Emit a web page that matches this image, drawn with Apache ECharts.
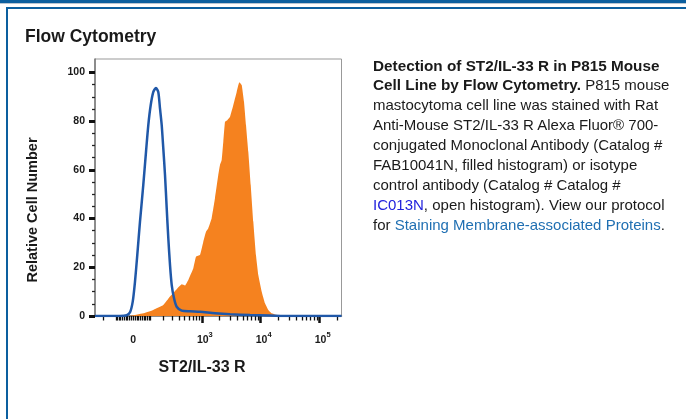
<!DOCTYPE html>
<html lang="en">
<head>
<meta charset="UTF-8">
<title>Flow Cytometry</title>
<script src="https://cdn.jsdelivr.net/npm/echarts@6/dist/echarts.min.js"></script>
<style>
    body { margin: 0; background: #fff; font-family: "Liberation Sans", Arial, sans-serif; color: #1a1a1a; }
    #page { position: relative; width: 686px; height: 419px; overflow: hidden; }
    .bar-top { position: absolute; left: 0; top: 0; width: 686px; height: 3px; background: #0c5f9f; }
    .bar-grey { position: absolute; left: 0; top: 3px; width: 686px; height: 1px; background: #b9c6d3; }
    .bar-thin { position: absolute; left: 6px; top: 7px; width: 680px; height: 2px; background: #0c5f9f; }
    .bar-left { position: absolute; left: 6px; top: 7px; width: 2px; height: 412px; background: #0c5f9f; }
    #main { position: absolute; left: 0; top: 0; width: 686px; height: 419px; }
    .title { position: absolute; left: 25px; top: 26px; font-size: 17.5px; line-height: 20px; font-weight: bold; white-space: nowrap; }
    .desc { position: absolute; left: 373px; top: 55.5px; font-size: 15px; line-height: 19.9px; white-space: nowrap; }
    .desc b { font-weight: bold; font-size: 15.3px; }
    .cat { color: #2222dd; }
    .lnk { color: #1f6fb2; }
</style>
</head>
<body>
<div id="page">
    <div class="bar-top"></div>
    <div class="bar-grey"></div>
    <div class="bar-thin"></div>
    <div class="bar-left"></div>
    <div id="main"></div>
    <div class="title">Flow Cytometry</div>
    <div class="desc">
        <b>Detection of ST2/IL-33 R in P815 Mouse</b><br>
        <b>Cell Line by Flow Cytometry.</b> P815 mouse<br>
        mastocytoma cell line was stained with Rat<br>
        Anti-Mouse ST2/IL-33 R Alexa Fluor® 700-<br>
        conjugated Monoclonal Antibody (Catalog #<br>
        FAB10041N, filled histogram) or isotype<br>
        control antibody (Catalog # Catalog #<br>
        <span class="cat">IC013N</span>, open histogram). View our protocol<br>
        for <span class="lnk">Staining Membrane-associated Proteins</span>.
    </div>
</div>
<script type="text/javascript">
    // x values are display positions on the biexponential axis (1 unit = 1 decade)
    var isotypeX = [1.192, 1.615, 1.729, 1.785, 1.831, 1.869, 1.908, 1.954, 2.010, 2.056, 2.095, 2.136, 2.180, 2.225, 2.264, 2.293, 2.322, 2.349, 2.378, 2.407, 2.434, 2.463, 2.492, 2.531, 2.576, 2.661, 2.802, 2.971, 3.225, 3.480, 3.819, 4.158, 4.497, 5.37];
    var isotypeY = [0, 0, 0.3, 1.5, 5.9, 14, 25, 38.7, 53.8, 67.4, 78.4, 86.6, 92, 93.6, 92, 85.2, 78.4, 68.8, 57.9, 44.2, 31.9, 20.9, 12.7, 7.3, 3.8, 2.2, 1.9, 1.7, 1.1, 0.7, 0.4, 0.2, 0, 0];

    var stainedX = [1.785, 2.010, 2.180, 2.349, 2.463, 2.576, 2.661, 2.717, 2.773, 2.858, 2.903, 2.971, 3.027, 3.073, 3.112, 3.169, 3.225, 3.281, 3.310, 3.339, 3.366, 3.395, 3.434, 3.480, 3.536, 3.593, 3.637, 3.678, 3.717, 3.751, 3.790, 3.831, 3.875, 3.920, 3.959, 4.017, 4.073, 4.129, 4.186, 4.271, 4.327];
    var stainedY = [0, 1.1, 2.5, 4.5, 8.0, 11, 13, 12.5, 14.8, 19.6, 24.3, 25, 30.5, 34.6, 36, 40.1, 48.3, 57.9, 62, 64, 71.5, 79.7, 80.4, 81.8, 86.6, 92, 96, 94.8, 87.9, 78.4, 67.4, 53.8, 38.7, 25, 16.8, 10, 5.2, 2.5, 1.1, 0.4, 0];

    var xLabelValues = [0, 1e3, 1e4, 1e5];
    var xLabelExp = ['', '3', '4', '5'];
    var xMinorValues = [-300, -200, -100, -90, -80, -70, -60, -50, -40, -30, -20, -10, 0, 10, 20, 30, 40, 50, 60, 70, 80, 90, 100,
        200, 300, 400, 500, 600, 700, 800, 900, 2000, 3000, 4000, 5000, 6000, 7000, 8000, 9000,
        20000, 30000, 40000, 50000, 60000, 70000, 80000, 90000, 200000];
    var yMajor = [0, 20, 40, 60, 80, 100];
    var yMinor = [5, 10, 15, 25, 30, 35, 45, 50, 55, 65, 70, 75, 85, 90, 95];

    // biexponential (asinh) transform, ~log10 for large values
    var C = 69;
    function bx(v) {
        return Math.log10(C) + Math.asinh(v / (2 * C)) / Math.LN10;
    }

    function pairs(xs, ys) {
        var out = [];
        for (var i = 0; i < xs.length; i++) out.push([xs[i], ys[i]]);
        return out;
    }

    var xMin = 1.1915, xMax = 5.3695;
    var majorPos = xLabelValues.map(bx);
    var lblFont = {fontFamily: 'Liberation Sans', fontWeight: 'bold', color: '#1a1a1a'};

    var myChart = echarts.init(document.getElementById('main'));
    var option = {
        animation: false,
        grid: {left: 95, top: 59, width: 246.5, height: 257, show: true, borderColor: '#999', borderWidth: 1, backgroundColor: 'transparent'},
        xAxis: [{
            type: 'value', min: xMin, max: xMax, position: 'bottom',
            splitLine: {show: false},
            axisLine: {show: true, onZero: false, lineStyle: {color: '#777', width: 1.5}},
            axisTick: {show: true, customValues: majorPos.slice(1), length: 7, lineStyle: {color: '#111', width: 2.5}},
            axisLabel: {
                customValues: majorPos, margin: 15, color: '#1a1a1a',
                fontFamily: 'Liberation Sans', fontWeight: 'bold', fontSize: 10.5,
                formatter: function (val) {
                    var best = 0;
                    for (var i = 0; i < majorPos.length; i++) {
                        if (Math.abs(majorPos[i] - val) < Math.abs(majorPos[best] - val)) best = i;
                    }
                    if (best === 0) return '{z|0}{e|\u200b}';
                    return '{b|10}{s|' + xLabelExp[best] + '}';
                },
                rich: {
                    z: echarts.util.extend({fontSize: 10.5}, lblFont),
                    b: echarts.util.extend({fontSize: 10.5, padding: [0, 0, 0, 6]}, lblFont),
                    s: echarts.util.extend({fontSize: 7.5, verticalAlign: 'bottom', padding: [0, 0, 11, 0]}, lblFont),
                    e: echarts.util.extend({fontSize: 7.5, verticalAlign: 'bottom', padding: [0, 0, 11, 0]}, lblFont)
                }
            }
        }, {
            type: 'value', min: xMin, max: xMax, position: 'bottom',
            splitLine: {show: false},
            axisLine: {show: false, onZero: false},
            axisTick: {show: true, customValues: xMinorValues.map(bx), length: 4.5, lineStyle: {color: '#111', width: 1.3}},
            axisLabel: {show: false}
        }],
        yAxis: [{
            type: 'value', min: 0, max: 105.5,
            splitLine: {show: false},
            axisLine: {show: true, lineStyle: {color: '#777', width: 1.5}},
            axisTick: {show: true, customValues: yMajor, length: 6, lineStyle: {color: '#111', width: 3}},
            axisLabel: {customValues: yMajor, margin: 10, color: '#1a1a1a', fontFamily: 'Liberation Sans', fontWeight: 'bold', fontSize: 10.5}
        }, {
            type: 'value', min: 0, max: 105.5, position: 'left',
            splitLine: {show: false},
            axisLine: {show: false},
            axisTick: {show: true, customValues: yMinor, length: 3, lineStyle: {color: '#222', width: 1.3}},
            axisLabel: {show: false}
        }],
        graphic: [{
            type: 'text', x: 33, y: 210, rotation: Math.PI / 2,
            style: {text: 'Relative Cell Number', fontFamily: 'Liberation Sans', fontWeight: 'bold', fontSize: 14.5, fill: '#1a1a1a', align: 'center', verticalAlign: 'middle'}
        }, {
            type: 'text', x: 202, y: 368,
            style: {text: 'ST2/IL-33 R', fontFamily: 'Liberation Sans', fontWeight: 'bold', fontSize: 16, fill: '#1a1a1a', align: 'center', verticalAlign: 'middle'}
        }],
        series: [{
            name: 'FAB10041N',
            type: 'line',
            data: pairs(stainedX, stainedY),
            symbol: 'none',
            smooth: 0.1,
            lineStyle: {width: 0},
            areaStyle: {color: '#f5821f', opacity: 1},
            z: 2
        }, {
            name: 'IC013N',
            type: 'line',
            data: pairs(isotypeX, isotypeY),
            symbol: 'none',
            smooth: 0.25,
            lineStyle: {color: '#2058a8', width: 2.5},
            z: 3
        }]
    };
    myChart.setOption(option);
</script>
</body>
</html>
